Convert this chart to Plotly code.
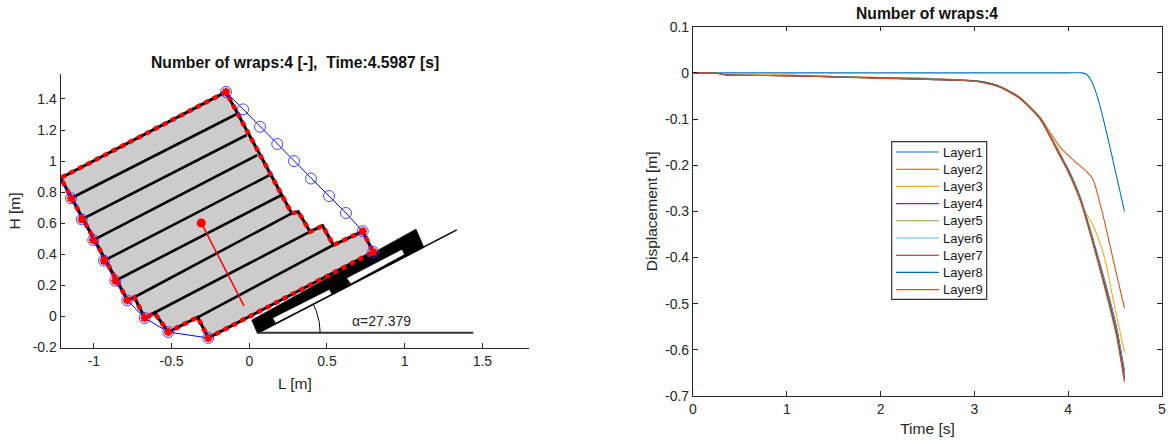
import numpy as np
import plotly.graph_objects as go

# ---- left chart data ----
outline_x = [-0.150,-1.214,-0.782,-0.740,-0.671,-0.611,-0.521,-0.332,-0.264,0.798,0.730,0.541,0.472,0.391,0.315,0.273,-0.150]
outline_y = [1.445,0.891,0.102,0.124,-0.012,0.024,-0.100,-0.005,-0.138,0.415,0.548,0.460,0.584,0.546,0.674,0.664,1.445]
layer_x = [-1.147,-0.071,None,-1.078,-0.017,None,-1.004,0.051,None,-0.935,0.133,None,-0.862,0.208,None,-0.740,0.273,None,-0.611,0.391,None,-0.332,0.541]
layer_y = [0.761,1.308,None,0.625,1.168,None,0.492,1.039,None,0.359,0.911,None,0.230,0.782,None,0.124,0.664,None,0.024,0.546,None,-0.005,0.460]
strap_left_x = [-1.214,-1.147,-1.078,-1.004,-0.935,-0.862,-0.785,-0.673,-0.521,-0.264]
strap_left_y = [0.891,0.761,0.625,0.492,0.359,0.230,0.104,-0.010,-0.100,-0.138]
strap_right_x = [-0.150,-0.040,0.069,0.180,0.288,0.397,0.513,0.622,0.730,0.798]
strap_right_y = [1.445,1.333,1.221,1.110,1.000,0.888,0.775,0.666,0.548,0.415]
pallet_x = [0.051,0.015,1.073,1.124,0.051]
pallet_y = [-0.108,-0.023,0.563,0.445,-0.108]
slot1_x = [0.154,0.515,0.529,0.172,0.154]
slot1_y = [-0.012,0.171,0.142,-0.042,-0.012]
slot2_x = [0.631,0.981,0.995,0.653,0.631]
slot2_y = [0.246,0.428,0.400,0.214,0.246]
incline_x = [0.051,1.335]
incline_y = [-0.108,0.557]
ground_x = [0.051,1.441]
ground_y = [-0.105,-0.104]
cog_x = [-0.309,-0.034]
cog_y = [0.602,0.068]
alpha_deg = 27.379
arc_radius = 0.405
left_xticks = [-1,-0.5,0,0.5,1,1.5]
left_xlabels = ["-1","-0.5","0","0.5","1","1.5"]
left_yticks = [-0.2,0,0.2,0.4,0.6,0.8,1,1.2,1.4]
left_ylabels = ["-0.2","0","0.2","0.4","0.6","0.8","1","1.2","1.4"]

# ---- right chart data ----
time_main = [0,0.25,0.38,1,1.5,2,2.5,2.85,3.06,3.27,3.486,3.70,3.91,4.0,4.126,4.25,4.35,4.445,4.517,4.6]
layer1_t = [0,1,2,3,4,4.15,4.2,4.25,4.3,4.35,4.41,4.5,4.6]
layer1 = [0,0,0,0,0,0,-0.004,-0.018,-0.045,-0.08,-0.13,-0.21,-0.30]
layer2_t = [0,0.25,0.38,1,1.5,2,2.5,2.85,3.06,3.27,3.486,3.70,3.785,3.91,4.054,4.197,4.267,4.375,4.48,4.6]
layer2 = [0,-0.001,-0.004,-0.005,-0.008,-0.010,-0.012,-0.015,-0.018,-0.029,-0.053,-0.096,-0.122,-0.160,-0.189,-0.214,-0.232,-0.312,-0.405,-0.51]
layer3_t = [0,0.25,0.38,1,1.5,2,2.5,2.85,3.06,3.27,3.486,3.70,3.91,4.054,4.16,4.27,4.34,4.41,4.48,4.6]
layer3 = [0,-0.001,-0.004,-0.005,-0.008,-0.010,-0.013,-0.015,-0.019,-0.030,-0.054,-0.098,-0.172,-0.240,-0.292,-0.333,-0.369,-0.42,-0.492,-0.606]
layer4 = [0,-0.001,-0.005,-0.006,-0.008,-0.011,-0.013,-0.016,-0.019,-0.030,-0.055,-0.099,-0.176,-0.208,-0.267,-0.350,-0.421,-0.492,-0.552,-0.645]
layer5 = [0,-0.001,-0.005,-0.006,-0.008,-0.011,-0.013,-0.016,-0.019,-0.030,-0.055,-0.099,-0.177,-0.210,-0.269,-0.352,-0.424,-0.496,-0.556,-0.650]
layer6 = [0,-0.001,-0.005,-0.006,-0.008,-0.011,-0.013,-0.016,-0.019,-0.030,-0.055,-0.099,-0.178,-0.211,-0.270,-0.354,-0.427,-0.500,-0.560,-0.655]
layer7 = [0,-0.001,-0.005,-0.006,-0.009,-0.011,-0.014,-0.016,-0.019,-0.030,-0.055,-0.099,-0.178,-0.212,-0.272,-0.356,-0.430,-0.503,-0.564,-0.660]
layer8 = [0,-0.001,-0.005,-0.006,-0.009,-0.011,-0.014,-0.016,-0.019,-0.030,-0.055,-0.099,-0.179,-0.213,-0.273,-0.358,-0.432,-0.506,-0.568,-0.665]
layer9 = [0,-0.001,-0.005,-0.006,-0.009,-0.012,-0.014,-0.016,-0.020,-0.031,-0.056,-0.100,-0.180,-0.215,-0.275,-0.360,-0.435,-0.510,-0.572,-0.670]
layer_names = ["Layer1","Layer2","Layer3","Layer4","Layer5","Layer6","Layer7","Layer8","Layer9"]
layer_colors = ["#0072BD","#D95319","#EDB120","#7E2F8E","#77AC30","#4DBEEE","#A2142F","#0072BD","#D95319"]
right_xticks = [0,1,2,3,4,5]
right_xlabels = ["0","1","2","3","4","5"]
right_yticks = [-0.7,-0.6,-0.5,-0.4,-0.3,-0.2,-0.1,0,0.1]
right_ylabels = ["-0.7","-0.6","-0.5","-0.4","-0.3","-0.2","-0.1","0","0.1"]

FONT = "Liberation Sans, Arial, sans-serif"
AX = "#262626"
W, H = 1170, 445

fig = go.Figure()
def L(**k):
    k.setdefault("xaxis","x"); k.setdefault("yaxis","y")
    k.setdefault("showlegend",False); k.setdefault("hoverinfo","skip")
    fig.add_trace(go.Scatter(**k))

# pallet
L(x=pallet_x,y=pallet_y,mode="lines",fill="toself",fillcolor="black",line=dict(color="black",width=0.5))
L(x=slot1_x,y=slot1_y,mode="lines",fill="toself",fillcolor="white",line=dict(color="white",width=0.5))
L(x=slot2_x,y=slot2_y,mode="lines",fill="toself",fillcolor="white",line=dict(color="white",width=0.5))
L(x=incline_x,y=incline_y,mode="lines",line=dict(color="black",width=1.5))
L(x=ground_x,y=ground_y,mode="lines",line=dict(color="#333333",width=2))
# arc
angles = np.radians(np.linspace(0,alpha_deg,25))
L(x=ground_x[0]+arc_radius*np.cos(angles),y=ground_y[0]+arc_radius*np.sin(angles),mode="lines",line=dict(color="black",width=1))
# load
L(x=outline_x,y=outline_y,mode="lines",fill="toself",fillcolor="#CCCCCC",line=dict(color="black",width=3))
L(x=layer_x,y=layer_y,mode="lines",line=dict(color="black",width=2.6))
# straps
L(x=strap_left_x,y=strap_left_y,mode="lines",line=dict(color="#0000FF",width=1),cliponaxis=False)
L(x=strap_right_x,y=strap_right_y,mode="lines",line=dict(color="#0000FF",width=1),cliponaxis=False)
# red dotted outline
L(x=outline_x,y=outline_y,mode="lines",line=dict(color="#FF0000",width=4.5,dash="5px,4.5px"),cliponaxis=False)
# COG
L(x=cog_x,y=cog_y,mode="lines",line=dict(color="#FF0000",width=1.5))
L(x=cog_x[:1],y=cog_y[:1],mode="markers",marker=dict(color="#FF0000",size=9))
# markers
L(x=strap_left_x,y=strap_left_y,mode="markers",cliponaxis=False,marker=dict(symbol="circle-open",color="#3030FF",size=11,line=dict(width=0.9)))
L(x=strap_right_x,y=strap_right_y,mode="markers",cliponaxis=False,marker=dict(symbol="circle-open",color="#3030FF",size=11,line=dict(width=0.9)))
L(x=strap_left_x,y=strap_left_y,mode="markers",cliponaxis=False,marker=dict(symbol="asterisk-open",color="#FF0000",size=7,line=dict(width=2.2,color="#FF0000")))
L(x=[strap_right_x[0],strap_right_x[-2],strap_right_x[-1]],y=[strap_right_y[0],strap_right_y[-2],strap_right_y[-1]],mode="markers",cliponaxis=False,marker=dict(symbol="asterisk-open",color="#FF0000",size=7,line=dict(width=2.2,color="#FF0000")))

# right chart
series = [(layer1_t,layer1),(layer2_t,layer2),(layer3_t,layer3),(time_main,layer4),(time_main,layer5),(time_main,layer6),(time_main,layer7),(time_main,layer8),(time_main,layer9)]
for name,c,(t,v) in zip(layer_names,layer_colors,series):
    fig.add_trace(go.Scatter(x=t,y=v,name=name,mode="lines",xaxis="x2",yaxis="y2",showlegend=False,
                             line=dict(color=c,width=1.1,shape="spline",smoothing=0.6)))

def axis(dom,rng,vals,text,title,standoff,mirror,anchor):
    return dict(domain=dom,range=rng,anchor=anchor,tickmode="array",tickvals=vals,ticktext=text,
                ticks="inside",ticklen=4.5,tickwidth=1,tickcolor=AX,showgrid=False,zeroline=False,
                showline=True,linecolor=AX,linewidth=1.2,mirror=mirror,
                tickfont=dict(family=FONT,size=14,color=AX),
                title=dict(text=title,font=dict(family=FONT,size=15.5,color=AX),standoff=standoff),
                automargin=False)

# legend drawn to the reference's tighter row pitch
shapes = [dict(type="rect",xref="paper",yref="paper",x0=891.7/W,x1=986.7/W,y0=1-299.3/H,y1=1-141.7/H,
               fillcolor="white",line=dict(color="#333333",width=1.2),layer="above")]
annotations = [
    dict(text="<b>Number of wraps:4 [-],  Time:4.5987 [s]</b>",xref="paper",yref="paper",x=295/W,y=1-63/H,showarrow=False,
         font=dict(family=FONT,size=15.7,color="#111111"),xanchor="center",yanchor="middle"),
    dict(text="<b>Number of wraps:4</b>",xref="paper",yref="paper",x=927/W,y=1-13/H,showarrow=False,
         font=dict(family=FONT,size=15.7,color="#111111"),xanchor="center",yanchor="middle"),
    dict(text="α=27.379",xref="x",yref="y",x=0.646,y=-0.027,showarrow=False,
         font=dict(family=FONT,size=14,color=AX),xanchor="left",yanchor="middle"),
]
for i,(name,c) in enumerate(zip(layer_names,layer_colors)):
    py = 152 + 17.2*i
    shapes.append(dict(type="line",xref="paper",yref="paper",x0=896/W,x1=939/W,y0=1-py/H,y1=1-py/H,
                       line=dict(color=c,width=1.1),layer="above"))
    annotations.append(dict(text=name,xref="paper",yref="paper",x=942/W,y=1-py/H,showarrow=False,xanchor="left",yanchor="middle",
                            xshift=-1,font=dict(family=FONT,size=13,color="#1a1a1a")))

fig.update_layout(
    width=W,height=H,margin=dict(l=0,r=0,t=0,b=0),autosize=False,showlegend=False,
    paper_bgcolor="white",plot_bgcolor="white",
    xaxis=axis([60.7/W,529/W],[-1.2136,1.80],left_xticks,left_xlabels,"L [m]",10,False,"y"),
    yaxis=axis([1-348/H,1-74/H],[-0.2027,1.5605],left_yticks,left_ylabels,"H [m]",8,False,"x"),
    xaxis2=axis([693/W,1162/W],[0,5],right_xticks,right_xlabels,"Time [s]",7,"ticks","y2"),
    yaxis2=axis([1-396/H,1-26.7/H],[-0.7,0.1],right_yticks,right_ylabels,"Displacement [m]",3,"ticks","x2"),
    shapes=shapes,annotations=annotations,
)
fig.write_html("out.html",config=dict(displayModeBar=False),post_script="document.body.style.margin='0';document.documentElement.style.overflow='hidden';")
